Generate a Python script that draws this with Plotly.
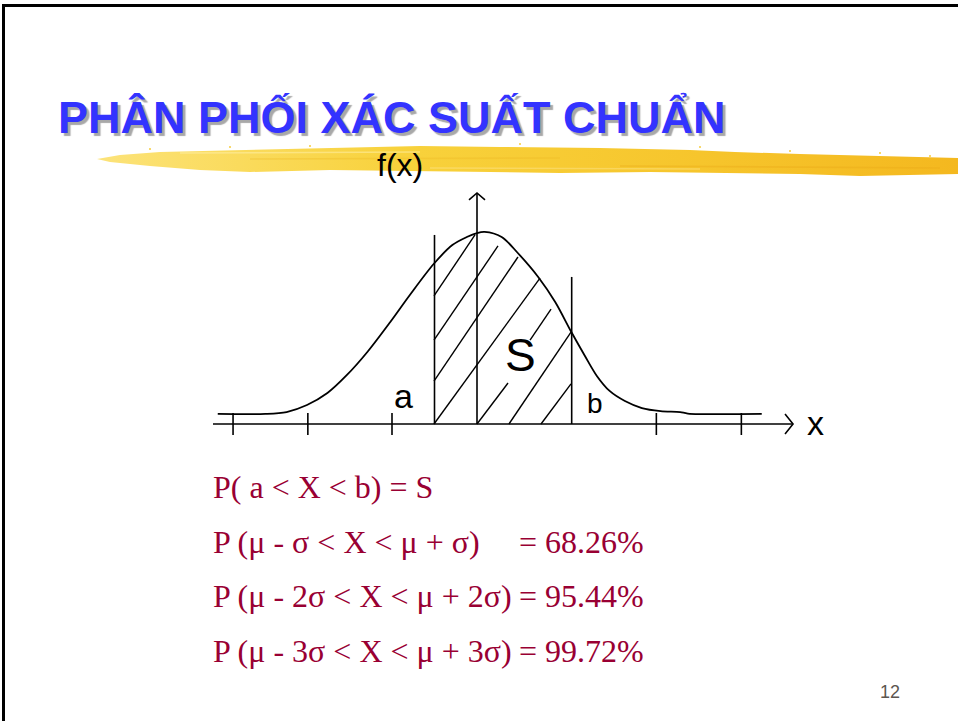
import plotly.graph_objects as go

# ---------------------------------------------------------------
# Normal-distribution sketch: x in units of sigma (mu = 0),
# f(x) scaled so the peak is about 1.
# ---------------------------------------------------------------
curve_x = [-3.05, -2.49, -2.24, -2.00, -1.76, -1.53, -1.29, -1.02, -0.79,
           -0.51, -0.29, -0.12, 0.00, 0.09, 0.29, 0.48, 0.72, 0.92, 1.11,
           1.27, 1.41, 1.56, 1.74, 1.94, 2.16, 2.39, 2.48, 3.35]
curve_y = [0.053, 0.053, 0.063, 0.100, 0.163, 0.258, 0.379, 0.537, 0.679,
           0.842, 0.942, 0.984, 1.005, 1.011, 0.984, 0.900, 0.774, 0.642, 0.484,
           0.358, 0.253, 0.174, 0.121, 0.084, 0.068, 0.063, 0.055, 0.053]

tick_x = [-2.87, -1.99, -1.00, 2.11, 3.11]

a_val, a_top = -0.50, 0.995
b_val, b_top = 1.114, 0.774

# hatch strokes filling the area S between a and b
hatch_x0 = [-0.506, -0.506, -0.506, -0.506, 0.000, 0.624, 0.376, 0.753]
hatch_y0 = [0.674, 0.442, 0.226, 0.000, 0.000, 0.442, 0.000, 0.000]
hatch_x1 = [-0.024, 0.247, 0.482, 0.741, 0.365, 0.871, 1.106, 1.106]
hatch_y1 = [0.995, 0.937, 0.879, 0.768, 0.216, 0.605, 0.484, 0.211]

x_axis_start, x_axis_end = -3.106, 3.718
y_axis_end = 1.216

prob_left = ["P( a < X < b) = S",
             "P (μ - σ < X < μ + σ)",
             "P (μ - 2σ < X < μ + 2σ)",
             "P (μ - 3σ < X < μ + 3σ)"]
prob_right = ["", "= 68.26%", "= 95.44%", "= 99.72%"]

title_text = "PHÂN PHỐI XÁC SUẤT CHUẨN"
page_no = "12"

# ---------------------------------------------------------------
W, H = 958, 721
SX, SY = 85.0, 190.0          # pixels per unit on the sketch axes
OX, OY = 477.0, 424.0         # pixel position of the origin

def pp(px, py):
    return px / W, 1 - py / H

fig = go.Figure()
LINE = dict(color="black", width=1.6)

# yellow brush stroke under the title (pixel overlay axes)
top_edge = [(97, 159), (120, 155), (160, 152), (240, 150), (340, 148), (420, 146),
            (500, 147), (600, 148), (690, 150), (735, 152), (800, 154), (870, 156), (958, 158)]
bot_edge = [(958, 174), (900, 175), (860, 176), (800, 174), (735, 173), (650, 172),
            (560, 173), (480, 172), (400, 171), (330, 170), (250, 172), (200, 170),
            (150, 166), (110, 162)]
poly = top_edge + bot_edge + [top_edge[0]]
fig.add_trace(go.Scatter(
    x=[p[0] for p in poly], y=[p[1] for p in poly], xaxis="x2", yaxis="y2",
    mode="lines", line=dict(width=0), fill="toself",
    fillgradient=dict(type="horizontal",
                      colorscale=[[0, "#FCE37A"], [0.35, "#F8D23C"],
                                  [0.7, "#F6C52C"], [1, "#F4B81F"]]),
    hoverinfo="skip", showlegend=False))
streaks = [
    ([250, 560], [159, 158], "#EDB824", 1.6, 0.35),
    ([620, 940], [166, 168], "#EBAA18", 1.6, 0.4),
    ([180, 420], [153, 152], "#FFF2B0", 1.5, 0.5),
    ([430, 700], [168, 169], "#FFE690", 1.5, 0.45),
]
for sx, sy, col, wdt, op in streaks:
    fig.add_trace(go.Scatter(x=sx, y=sy, xaxis="x2", yaxis="y2", mode="lines",
                             line=dict(color=col, width=wdt), opacity=op,
                             hoverinfo="skip", showlegend=False))
fig.add_trace(go.Scatter(
    x=[150, 230, 310, 520, 700, 790, 880, 930], y=[149, 147, 146, 144, 147, 151, 153, 156],
    xaxis="x2", yaxis="y2", mode="markers",
    marker=dict(size=2, color="#F6CC3C", line=dict(width=0)),
    hoverinfo="skip", showlegend=False))

# x axis with arrow
fig.add_trace(go.Scatter(x=[x_axis_start, x_axis_end], y=[0, 0], mode="lines",
                         line=LINE, hoverinfo="skip", showlegend=False))
aw, ah = 8 / SX, 10 / SY
fig.add_trace(go.Scatter(x=[x_axis_end - aw, x_axis_end, x_axis_end - aw],
                         y=[ah, 0, -ah], mode="lines", line=LINE,
                         hoverinfo="skip", showlegend=False))
# y axis with arrow
fig.add_trace(go.Scatter(x=[0, 0], y=[0, y_axis_end], mode="lines", line=LINE,
                         hoverinfo="skip", showlegend=False))
vw, vh = 8 / SX, 7 / SY
fig.add_trace(go.Scatter(x=[-vw, 0, vw], y=[y_axis_end - vh, y_axis_end, y_axis_end - vh],
                         mode="lines", line=LINE, hoverinfo="skip", showlegend=False))

# ticks
th = 11 / SY
tx, ty = [], []
for t in tick_x:
    tx += [t, t, None]
    ty += [th, -th, None]
fig.add_trace(go.Scatter(x=tx, y=ty, mode="lines", line=LINE,
                         hoverinfo="skip", showlegend=False))

# bounds a and b
fig.add_trace(go.Scatter(x=[a_val, a_val, None, b_val, b_val],
                         y=[0, a_top, None, 0, b_top], mode="lines", line=LINE,
                         hoverinfo="skip", showlegend=False))

# hatching
hx, hy = [], []
for x0, y0, x1, y1 in zip(hatch_x0, hatch_y0, hatch_x1, hatch_y1):
    hx += [x0, x1, None]
    hy += [y0, y1, None]
fig.add_trace(go.Scatter(x=hx, y=hy, mode="lines", line=dict(color="black", width=1.4),
                         hoverinfo="skip", showlegend=False))

# density curve
fig.add_trace(go.Scatter(x=curve_x, y=curve_y, mode="lines",
                         line=dict(color="black", width=1.8, shape="spline", smoothing=0.9),
                         hoverinfo="skip", showlegend=False))

# ---------------------------------------------------------------
ann = []
def text(px, py, s, size, color="black", family="Arial, Liberation Sans",
         xanchor="center", yanchor="middle", shadow=None):
    x, y = pp(px, py)
    font = dict(size=size, color=color, family=family)
    if shadow:
        font["shadow"] = shadow
    ann.append(dict(x=x, y=y, xref="paper", yref="paper", text=s, showarrow=False,
                    xanchor=xanchor, yanchor=yanchor, font=font))

# title with drop shadow
text(56, 117, "<b>" + title_text + "</b>", 45, color="#3333FF", xanchor="left",
     shadow="3px 3px 1px #A8A8A8")

text(400, 165, "f(x)", 32)
text(403, 396, "a", 34)
text(595, 403, "b", 28)
text(520, 355, "S", 46)
text(815, 423, "x", 34)

serif = "Times New Roman, Liberation Serif"
prob_y = [487, 542, 596, 651]
for s_l, s_r, yy in zip(prob_left, prob_right, prob_y):
    text(211, yy, s_l, 32, color="#990033", family=serif, xanchor="left")
    if s_r:
        text(646, yy, s_r, 32, color="#990033", family=serif, xanchor="right")

text(889.5, 692, page_no, 18, color="#5C5650")

shapes = [
    dict(type="rect", xref="paper", yref="paper", x0=2 / W, x1=1, y0=1 - 7 / H, y1=1 - 4 / H,
         fillcolor="black", line=dict(width=0), layer="above"),
    dict(type="rect", xref="paper", yref="paper", x0=2 / W, x1=5 / W, y0=0, y1=1 - 4 / H,
         fillcolor="black", line=dict(width=0), layer="above"),
]

fig.update_layout(
    width=W, height=H, margin=dict(l=0, r=0, t=0, b=0),
    paper_bgcolor="white", plot_bgcolor="white",
    xaxis=dict(range=[-OX / SX, (W - OX) / SX], visible=False, fixedrange=True, domain=[0, 1]),
    yaxis=dict(range=[-(H - OY) / SY, OY / SY], visible=False, fixedrange=True, domain=[0, 1]),
    xaxis2=dict(range=[0, W], visible=False, overlaying="x", anchor="y2", fixedrange=True),
    yaxis2=dict(range=[H, 0], visible=False, overlaying="y", anchor="x2", fixedrange=True),
    annotations=ann, shapes=shapes, showlegend=False,
)

fig.write_html("out.html", config={"displayModeBar": False})
